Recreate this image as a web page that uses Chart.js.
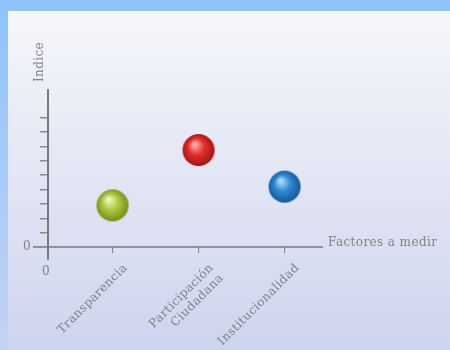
<!DOCTYPE html>
<html>
<head>
<meta charset="utf-8">
<script src="https://cdn.jsdelivr.net/npm/chart.js@4/dist/chart.umd.min.js"></script>
<style>
  html, body { margin: 0; padding: 0; }
  body { width: 450px; height: 350px; position: relative; overflow: hidden;
         background: linear-gradient(#8ec3f9, #c3d2f3); }
  #panel { position: absolute; left: 8px; top: 11px; right: 0; bottom: 0;
           background: linear-gradient(#f6f7fb, #e6e9f5 40%, #cdd4ee); }
  #c { position: absolute; left: 0; top: 0; }
</style>
</head>
<body>
<div id="panel"></div>
<canvas id="c" width="450" height="350"></canvas>
<script>
// datos del gráfico
const categorias = ["Transparencia", ["Participación", "Ciudadana"], "Institucionalidad"];
const posiciones = [1, 2, 3];
const indices = [2.9, 6.75, 4.2];
const yTicks = [0, 1, 2, 3, 4, 5, 6, 7, 8, 9];

const gris = "#838383";
const fuente = "'DejaVu Serif', serif";
const tam = 12;
const espaciado = "0.4px";

// bolitas con brillo
const hacerBola = (claro, medio, oscuro) => {
  const c = document.createElement("canvas");
  c.width = 34;
  c.height = 34;
  const ctx = c.getContext("2d");
  const g = ctx.createRadialGradient(13, 11, 1, 17, 17, 17);
  g.addColorStop(0, claro);
  g.addColorStop(0.45, medio);
  g.addColorStop(1, oscuro);
  ctx.fillStyle = g;
  ctx.beginPath();
  ctx.arc(17, 17, 16, 0, Math.PI * 2);
  ctx.fill();
  return c;
};

const bolas = [
  hacerBola("#f0f8c0", "#afc83e", "#728a14"),
  hacerBola("#ffb4aa", "#e0302e", "#a01212"),
  hacerBola("#ade0fc", "#3088d2", "#125494"),
];

// el texto del original va algo espaciado
const espaciar = {
  id: "espaciar",
  beforeUpdate(chart) {
    chart.ctx.letterSpacing = espaciado;
  },
  beforeDraw(chart) {
    chart.ctx.letterSpacing = espaciado;
  },
};

const ejes = {
  id: "ejes",
  afterDraw(chart) {
    const { ctx, scales } = chart;
    const x = scales.x, y = scales.y;
    const x0 = x.getPixelForValue(x.min);
    const y0 = y.getPixelForValue(0);
    ctx.save();
    ctx.strokeStyle = "#7a7a7a";
    // eje y
    ctx.lineWidth = 2;
    ctx.beginPath();
    ctx.moveTo(x0, y.getPixelForValue(y.max));
    ctx.lineTo(x0, y0 + 13);
    ctx.stroke();
    // eje x
    ctx.lineWidth = 1.5;
    ctx.beginPath();
    ctx.moveTo(x0 - 15, y0);
    ctx.lineTo(x.getPixelForValue(x.max) + 4, y0);
    ctx.stroke();

    ctx.fillStyle = gris;
    ctx.font = tam + "px " + fuente;
    ctx.letterSpacing = espaciado;
    ctx.textBaseline = "middle";
    ctx.textAlign = "left";
    ctx.fillText("Factores a medir", x.getPixelForValue(x.max) + 9, y0 - 4);
    ctx.textAlign = "center";
    ctx.fillText("0", x0 - 2, y0 + 25);

    ctx.translate(x0 - 8, y.getPixelForValue(y.max) - 27);
    ctx.rotate(-Math.PI / 2);
    ctx.fillText("Indice", 0, 0);
    ctx.restore();
  },
};

new Chart(document.getElementById("c"), {
  type: "scatter",
  data: {
    datasets: [
      {
        data: posiciones.map((p, i) => ({ x: p, y: indices[i] })),
        pointStyle: bolas,
        pointRadius: 16,
      },
    ],
  },
  options: {
    responsive: false,
    animation: false,
    layout: { padding: { left: 0, top: 89, right: 131, bottom: 0 } },
    plugins: { legend: { display: false }, tooltip: { enabled: false } },
    scales: {
      x: {
        type: "linear",
        min: 0.25,
        max: 3.4,
        afterBuildTicks: (s) => {
          s.ticks = posiciones.map((v) => ({ value: v }));
        },
        afterFit: (s) => {
          s.height = 103;
        },
        border: { display: false },
        grid: { drawOnChartArea: false, tickLength: 6, color: "#8a8a8a", lineWidth: 1.2 },
        ticks: {
          autoSkip: false,
          minRotation: 45,
          maxRotation: 45,
          padding: 8,
          labelOffset: 13,
          color: gris,
          font: { family: fuente, size: tam },
          callback: (v) => categorias[posiciones.indexOf(v)],
        },
      },
      y: {
        min: 0,
        max: 11,
        afterBuildTicks: (s) => {
          s.ticks = yTicks.map((v) => ({ value: v }));
        },
        afterFit: (s) => {
          s.width = 48;
        },
        border: { display: false },
        grid: {
          drawOnChartArea: false,
          tickLength: 8,
          lineWidth: 1.5,
          color: (c) => (c.tick && c.tick.value > 0 ? "#8a8a8a" : "rgba(0,0,0,0)"),
        },
        ticks: {
          autoSkip: false,
          padding: 9,
          color: gris,
          font: { family: fuente, size: tam },
          callback: (v) => (v === 0 ? "0" : ""),
        },
      },
    },
  },
  plugins: [espaciar, ejes],
});
</script>
</body>
</html>
